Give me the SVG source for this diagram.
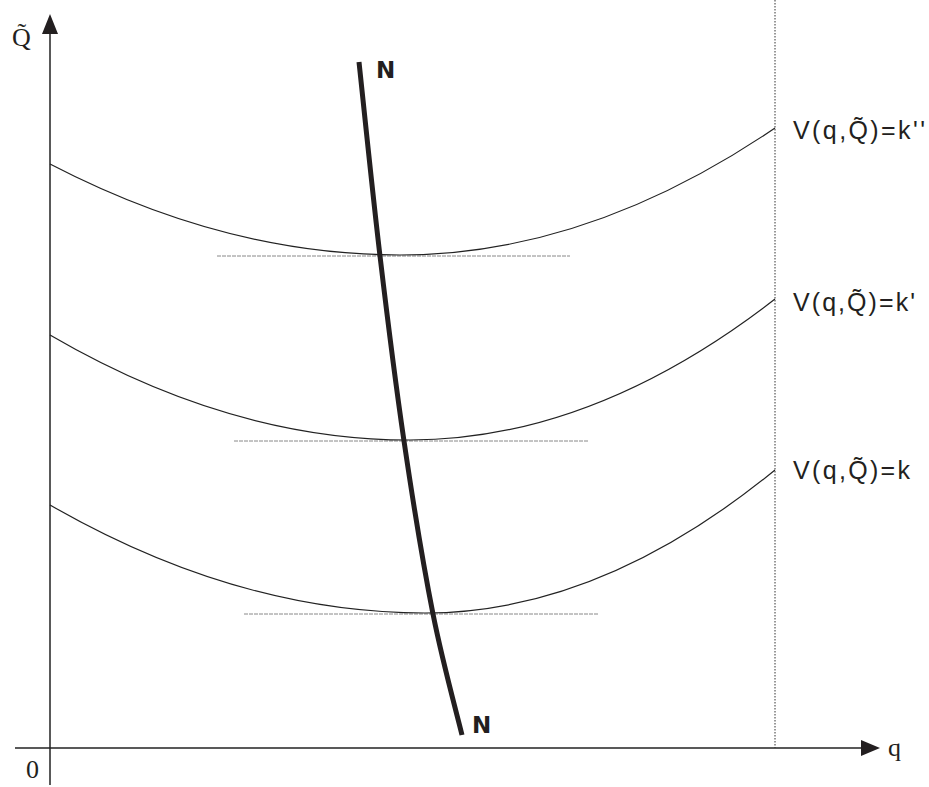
<svg xmlns="http://www.w3.org/2000/svg" width="929" height="787" viewBox="0 0 929 787">
<style>
.ax{stroke:#222;stroke-width:1.5;fill:none}
.cv{stroke:#222;stroke-width:1.2;fill:none}
.tg{stroke:#888;stroke-width:1;fill:none;stroke-dasharray:4,1}
.lbl{font-family:"Liberation Sans",Arial,sans-serif;font-size:25px;fill:#231f20}
.ser{font-family:"Liberation Serif","Times New Roman",serif;font-size:26px;fill:#231f20}
.nb{font-family:"DejaVu Sans","Liberation Sans",sans-serif;font-weight:bold;font-size:23px;fill:#231f20}
</style>
<rect width="929" height="787" fill="#fff"/>
<g id="connectors">
<line class="ax" x1="50" y1="30" x2="50" y2="785"/>
<polygon points="50,14 42,34 58,34" fill="#231f20"/>
<line class="ax" x1="15" y1="748" x2="864" y2="748"/>
<polygon points="880,748 861,740 861,756" fill="#231f20"/>
<line x1="775" y1="0" x2="775" y2="748" stroke="#333" stroke-width="1" stroke-dasharray="1.5,1.5"/>
<line class="tg" x1="217" y1="256" x2="570" y2="256"/>
<line class="tg" x1="234" y1="441" x2="589" y2="441"/>
<line class="tg" x1="244" y1="614" x2="598" y2="614"/>
<path class="cv" d="M50,164 Q225,255 400,255 Q588,255 775,128"/>
<path class="cv" d="M50,335 Q230,440 410,440 Q593,440 775,299"/>
<path class="cv" d="M50,505 Q238,613 425,613 Q600,613 775,470"/>
<path d="M359,62 C362.5,94.3 372.5,192.8 380,256 C387.5,319.2 395.2,381.3 404,441 C412.8,500.7 423.3,565 433,614 C442.7,663 457.2,714.8 462,735" stroke="#231f20" stroke-width="5" fill="none"/>
</g>
<g id="labels">
<text class="ser" x="12" y="46">Q&#771;</text>
<text class="ser" x="26" y="778">0</text>
<text class="ser" x="888" y="756">q</text>
<text class="nb" x="376" y="78">N</text>
<text class="nb" x="472" y="733">N</text>
<text class="lbl" x="793" y="139" textLength="132" lengthAdjust="spacing">V(q,Q&#771;)=k''</text>
<text class="lbl" x="793" y="311" textLength="122" lengthAdjust="spacing">V(q,Q&#771;)=k'</text>
<text class="lbl" x="793" y="479" textLength="117" lengthAdjust="spacing">V(q,Q&#771;)=k</text>
</g>
</svg>
